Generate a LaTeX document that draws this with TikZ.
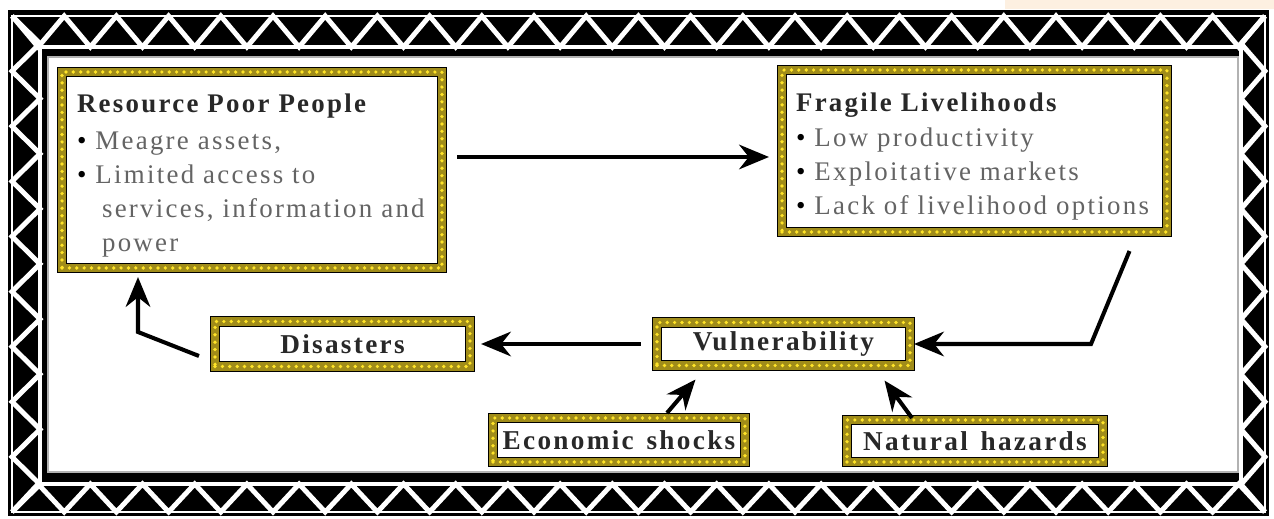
\documentclass[tikz,border=0pt]{standalone}
\usepackage{fontspec}
\setmainfont{Liberation Serif}[LetterSpace=8.5, WordSpace=1.4]
\usepackage{tikz}
\usetikzlibrary{arrows.meta}
\definecolor{bandgold}{RGB}{160,140,25}
\definecolor{dotgold}{RGB}{255,228,40}
\definecolor{headgray}{RGB}{40,40,40}
\definecolor{bodygray}{RGB}{100,100,100}
\definecolor{peach}{RGB}{253,240,225}
\newcommand*{\xMin}{12}
\newcommand*{\xMax}{1265}
\newcommand*{\yMin}{16}
\newcommand*{\yMax}{512}
\newcommand*{\bul}{{\color{black}\textbullet}\ }

\tikzset{
    panel/.style={rectangle, draw=bandgold, line width=4.6pt,
      preaction={fill=white, draw=black, line width=5.8pt},
      postaction={draw=dotgold, line width=2.1pt, line cap=round, dash pattern=on 0pt off 4.2pt},
      text=bodygray, font=\fontsize{15.3}{19.3}\selectfont},
    tagbox/.style={panel, inner sep=2pt, text=headgray, font=\fontsize{15.5}{18}\selectfont\bfseries},
    arr/.style={line width=2.3pt, -{Stealth[length=17pt,width=14pt,inset=5.5pt]}},
    zig/.style={white, line width=2.8pt},
}

\begin{document}
\begin{tikzpicture}[x=0.02cm, y=-0.02cm]
    \useasboundingbox (0,0) rectangle (1274,519);
    \fill[peach] (1005,0) rectangle (1274,9);
    \fill[black] (8,10) rectangle (1269,516);
    \draw[white, line width=1.4pt] (\xMin,\yMin) rectangle (\xMax,\yMax);
    \draw[zig] (40,47) rectangle (1241,484);
    \draw[zig] (\xMin,\yMin) \foreach \i in {1,...,24} { -- ({\xMin+(\i-0.5)*52.2},47) -- ({\xMin+\i*52.2},\yMin) };
    \draw[zig] (\xMin,\yMax) \foreach \i in {1,...,24} { -- ({\xMin+(\i-0.5)*52.2},484) -- ({\xMin+\i*52.2},\yMax) };
    \draw[zig] (\xMin,\yMin) \foreach \i in {1,...,9} { -- (40,{\yMin+(\i-0.5)*55.11}) -- (\xMin,{\yMin+\i*55.11}) };
    \draw[zig] (\xMax,\yMin) \foreach \i in {1,...,9} { -- (1241,{\yMin+(\i-0.5)*55.11}) -- (\xMax,{\yMin+\i*55.11}) };
    \filldraw[fill=white, draw=gray!60, line width=0.6pt] (48,57) rectangle (1238,472);

    \node[panel, align=left, text width=7cm, inner xsep=0.3cm, minimum height=3.92cm] (rpp) at (252,170)
      {\rule{0pt}{17pt}{\bfseries\color{headgray}Resource Poor People}\\[2pt]
       \bul Meagre assets,\\
       \bul Limited access to\\
       \hspace*{0.5cm}\mbox{services, information and}\\
       \hspace*{0.5cm}power};
    \node[panel, align=left, text width=7.14cm, inner xsep=0.28cm, minimum height=3.24cm] (fl) at (974.5,151)
      {\rule{0pt}{17pt}{\bfseries\color{headgray}Fragile Livelihoods}\\[1pt]
       \bul Low productivity\\
       \bul Exploitative markets\\
       \bul \mbox{Lack of livelihood options}};
    \node[tagbox, minimum width=5.1cm, minimum height=0.9cm] (dis) at (342.5,344) {Disasters};
    \node[tagbox, minimum width=5.06cm, minimum height=0.86cm] (vul) at (783.5,344) {Vulnerability};
    \node[tagbox, minimum width=5.04cm, minimum height=0.88cm] (eco) at (619,440) {Economic shocks};
    \node[tagbox, minimum width=5.12cm, minimum height=0.84cm] (nat) at (975,441) {Natural hazards};

    \coordinate (vbend) at ([shift={(177,0)}]vul.east);
    \coordinate (dbend) at (138,332);
    \draw[arr] ([shift={(11,-13)}]rpp.east) -- ([shift={(-9,6)}]fl.west);
    \draw[arr] ([shift={(155,15)}]fl.south) -- (vbend) -- (vul.east);
    \draw[arr] ([shift={(-12,0)}]vul.west) -- ([shift={(7,0)}]dis.east);
    \draw[arr, shorten >=0.1cm] ([shift={(-12,12)}]dis.west) -- (dbend) -- (dbend |- rpp.south);
    \draw[arr] ([shift={(48,-1)}]eco.north) -- ([shift={(-88,10)}]vul.south);
    \draw[arr] ([shift={(-63,2)}]nat.north) -- ([shift={(101,11)}]vul.south);
\end{tikzpicture}
\end{document}
